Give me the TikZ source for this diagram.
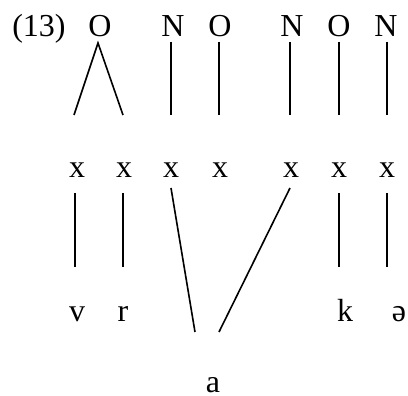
\documentclass[tikz,border=0pt]{standalone}
\usepackage{fontspec}
\setmainfont{Liberation Serif}
\begin{document}
\begin{tikzpicture}[x=1pt,y=-1pt,
  lbl/.style={anchor=base,inner sep=0pt,font=\fontsize{32}{38}\selectfont},
  assoc/.style={line width=1.6pt}]
\useasboundingbox (0,0) rectangle (408,396);
% top row
\node[lbl] (num) at (39,37) {(13)};
\node[lbl] (O1) at (100,37) {O};
\node[lbl] (N1) at (173,37) {N};
\node[lbl] (O2) at (220,37) {O};
\node[lbl] (N2) at (292,37) {N};
\node[lbl] (O3) at (339,37) {O};
\node[lbl] (N3) at (386,37) {N};
% skeleton
\node[lbl] (x1) at (77,178) {x};
\node[lbl] (x2) at (124,178) {x};
\node[lbl] (x3) at (171,178) {x};
\node[lbl] (x4) at (220,178) {x};
\node[lbl] (x5) at (291,178) {x};
\node[lbl] (x6) at (339,178) {x};
\node[lbl] (x7) at (387,178) {x};
% segments
\node[lbl] (v) at (77,322) {v};
\node[lbl] (r) at (123,322) {r};
\node[lbl] (k) at (345,322) {k};
\node[lbl] (schwa) at (399,322) {ə};
\node[lbl] (a) at (213,392) {a};
% line ends
\coordinate (apex) at (98,43);
\coordinate (o1l) at (74,115);
\coordinate (o1r) at (123,115);
\coordinate (n1t) at (171,42);  \coordinate (n1b) at (171,115);
\coordinate (o2t) at (219,42);  \coordinate (o2b) at (219,115);
\coordinate (n2t) at (290,42);  \coordinate (n2b) at (290,115);
\coordinate (o3t) at (339,42);  \coordinate (o3b) at (339,115);
\coordinate (n3t) at (387,42);  \coordinate (n3b) at (387,115);
\coordinate (x1b) at (75,193);  \coordinate (vt) at (75,267);
\coordinate (x2b) at (123,193); \coordinate (rt) at (123,267);
\coordinate (x6b) at (339,193); \coordinate (kt) at (339,267);
\coordinate (x7b) at (387,193); \coordinate (st) at (387,267);
\coordinate (x3b) at (171,188); \coordinate (al) at (195,332);
\coordinate (x5b) at (290,188); \coordinate (ar) at (219,332);
% association lines
\draw[assoc] (o1l) -- (apex) -- (o1r);
\draw[assoc] (n1t) -- (n1b);
\draw[assoc] (o2t) -- (o2b);
\draw[assoc] (n2t) -- (n2b);
\draw[assoc] (o3t) -- (o3b);
\draw[assoc] (n3t) -- (n3b);
\draw[assoc] (x1b) -- (vt);
\draw[assoc] (x2b) -- (rt);
\draw[assoc] (x6b) -- (kt);
\draw[assoc] (x7b) -- (st);
\draw[assoc] (x3b) -- (al);
\draw[assoc] (x5b) -- (ar);
\end{tikzpicture}
\end{document}
